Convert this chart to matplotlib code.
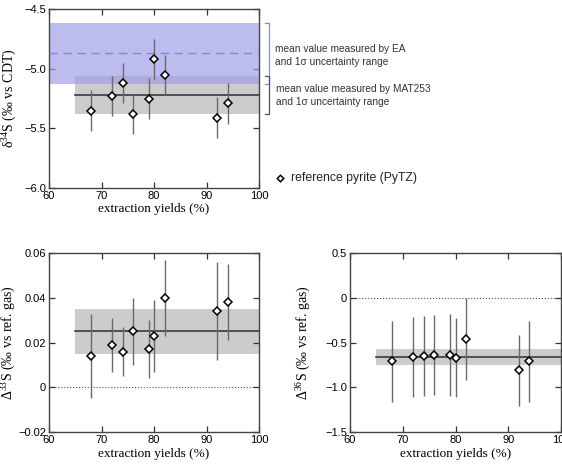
import numpy as np
import matplotlib
matplotlib.use("Agg")
import matplotlib.pyplot as plt
from matplotlib.ticker import FixedLocator

plt.rcParams['font.family'] = ['Liberation Sans', 'DejaVu Sans']
plt.rcParams['mathtext.fontset'] = 'custom'
plt.rcParams['mathtext.rm'] = 'Liberation Serif'
plt.rcParams['axes.unicode_minus'] = True

# data
yields = [68, 72, 74, 76, 79, 80, 82, 92, 94]
d34 = [-5.35, -5.23, -5.12, -5.38, -5.25, -4.92, -5.05, -5.41, -5.29]
d34_err = [0.17, 0.17, 0.17, 0.17, 0.17, 0.17, 0.17, 0.17, 0.17]
D33 = [0.014, 0.019, 0.016, 0.025, 0.017, 0.023, 0.040, 0.034, 0.038]
D33_err = [0.019, 0.012, 0.011, 0.015, 0.013, 0.016, 0.017, 0.022, 0.017]
D36 = [-0.71, -0.66, -0.65, -0.64, -0.64, -0.67, -0.46, -0.81, -0.71]
D36_err = [0.45, 0.45, 0.45, 0.45, 0.46, 0.44, 0.46, 0.40, 0.45]

ea_mean, ea_sd = -4.87, 0.26
mat_d34, mat_d34_sd = -5.22, 0.16
mat_D33, mat_D33_sd = 0.025, 0.010
mat_D36, mat_D36_sd = -0.66, 0.09
band_start = 65

xticks = [60, 70, 80, 90, 100]
yt_top = [-6.0, -5.5, -5.0, -4.5]
yt_top_lab = ['\u22126.0', '\u22125.5', '\u22125.0', '\u22124.5']
yt_33 = [-0.02, 0, 0.02, 0.04, 0.06]
yt_33_lab = ['\u22120.02', '0', '0.02', '0.04', '0.06']
yt_36 = [-1.5, -1.0, -0.5, 0, 0.5]
yt_36_lab = ['\u22121.5', '\u22121.0', '\u22120.5', '0', '0.5']

serif = ['Liberation Serif', 'DejaVu Serif']
err_col = '#6a6a6a'


def setup(ax, yt, ylab, ylim, ylabel, labx):
    ax.set_xlim(60, 100)
    ax.set_ylim(*ylim)
    ax.xaxis.set_major_locator(FixedLocator(xticks))
    ax.set_xticklabels([str(t) for t in xticks])
    ax.yaxis.set_major_locator(FixedLocator(yt))
    ax.set_yticklabels(ylab)
    ax.tick_params(direction='in', top=True, right=True, length=4,
                   width=0.9, labelsize=8, color='#333333', pad=2)
    for s in ax.spines.values():
        s.set_color('#444444')
        s.set_linewidth(1.0)
    ax.set_xlabel('extraction yields (%)', family=serif, fontsize=9.5, labelpad=2)
    ax.set_ylabel(ylabel, family=serif, fontsize=10)
    ax.yaxis.set_label_coords(labx, 0.5)


def points(ax, y, err):
    ax.errorbar(yields, y, yerr=err, fmt='none', ecolor=err_col,
                elinewidth=1.0, capsize=0, zorder=4)
    ax.plot(yields, y, 'D', ms=3.8, mfc='white', mec='black', mew=1.1, zorder=5)


def mean_band(ax, m, sd):
    ax.fill_between([band_start, 100], m - sd, m + sd, color='#cccccc',
                    lw=0, zorder=1)
    ax.plot([band_start, 100], [m, m], color='#3a3a3a', lw=1.2, zorder=3)


fig = plt.figure(figsize=(5.62, 4.72), dpi=100)
ax1 = fig.add_axes([0.0872, 0.602, 0.374, 0.378])
ax2 = fig.add_axes([0.0872, 0.0847, 0.374, 0.379])
ax3 = fig.add_axes([0.6228, 0.0847, 0.3754, 0.379])

# top: delta34S
mean_band(ax1, mat_d34, mat_d34_sd)
ax1.fill_between([60, 100], ea_mean - ea_sd, ea_mean + ea_sd, color='#9e9ee9',
                 alpha=0.69, lw=0, zorder=2)
ax1.plot([60, 100], [ea_mean, ea_mean], color='#8686d8', lw=1.0,
         dashes=(6, 4), zorder=3)
points(ax1, d34, d34_err)
setup(ax1, yt_top, yt_top_lab, (-6.0, -4.5), '\u03b4$^{34}$S (\u2030 vs CDT)', -0.146)

# brackets + notes
tr = ax1.get_yaxis_transform()
bx, tx = 1.048, 1.029
for lo, hi, col in [(ea_mean - ea_sd, ea_mean + ea_sd, '#8a8ae0'),
                    (mat_d34 - mat_d34_sd, mat_d34 + mat_d34_sd, '#555555')]:
    ax1.plot([tx, bx, bx, tx], [hi, hi, lo, lo], color=col, lw=0.9,
             transform=tr, clip_on=False)
ax1.text(1.075, ea_mean - 0.02, 'mean value measured by EA\nand 1\u03c3 uncertainty range',
         transform=tr, fontsize=7.3, va='center', ha='left', color='#333333',
         linespacing=1.35)
ax1.text(1.08, mat_d34 - 0.005, 'mean value measured by MAT253\nand 1\u03c3 uncertainty range',
         transform=tr, fontsize=7.3, va='center', ha='left', color='#333333',
         linespacing=1.35)
ax1.plot([1.10], [-5.92], 'D', ms=3.3, mfc='white', mec='black', mew=1.1,
         transform=tr, clip_on=False)
ax1.text(1.152, -5.92, 'reference pyrite (PyTZ)', transform=tr, fontsize=8.8,
         va='center', ha='left', color='#222222')

# bottom left: Delta33S
ax2.axhline(0, color='#555555', lw=0.8, ls=':', zorder=1)
mean_band(ax2, mat_D33, mat_D33_sd)
points(ax2, D33, D33_err)
setup(ax2, yt_33, yt_33_lab, (-0.02, 0.06), '\u0394$^{33}$S (\u2030 vs ref. gas)', -0.15)

# bottom right: Delta36S
ax3.axhline(0, color='#555555', lw=0.8, ls=':', zorder=1)
mean_band(ax3, mat_D36, mat_D36_sd)
points(ax3, D36, D36_err)
setup(ax3, yt_36, yt_36_lab, (-1.5, 0.5), '\u0394$^{36}$S (\u2030 vs ref. gas)', -0.178)

fig.savefig('out.png', dpi=100)
